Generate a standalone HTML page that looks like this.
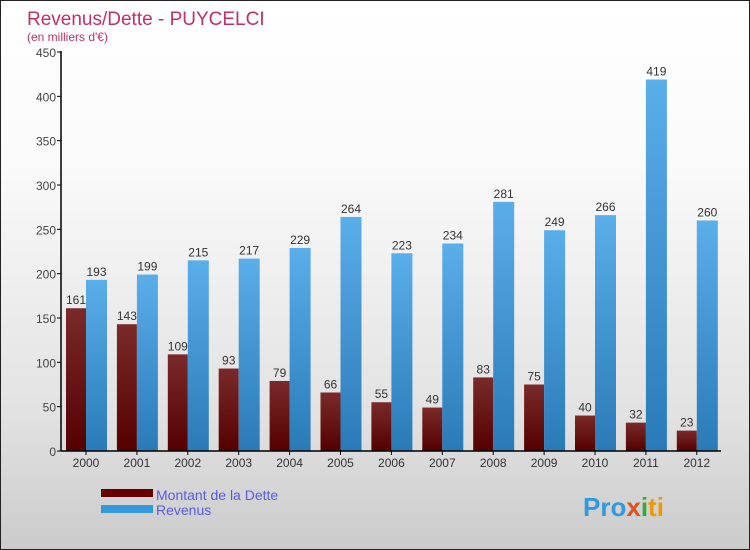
<!DOCTYPE html>
<html><head><meta charset="utf-8"><style>
body{margin:0}
#c{width:748px;height:548px;border:1px solid #222;background:linear-gradient(#fff,#fafafa 30%,#e2e2e2 75%,#cbcbcb);position:relative;overflow:hidden;font-family:"Liberation Sans",sans-serif}
</style></head><body>
<div id="c">
<svg id="s" width="748" height="548">
<defs>
<linearGradient id="gr" x1="0" y1="0" x2="0" y2="1"><stop offset="0" stop-color="#7a2a2a"/><stop offset="1" stop-color="#550000"/></linearGradient>
<linearGradient id="gb" x1="0" y1="0" x2="0" y2="1"><stop offset="0" stop-color="#5aaeea"/><stop offset="1" stop-color="#2a7ab8"/></linearGradient>
</defs>
<text x="26" y="24" font-size="19" fill="#c0306a">Revenus/Dette - PUYCELCI</text>
<text x="26" y="40" font-size="12" fill="#c0306a">(en milliers d'€)</text>
<g id="g"></g>
<rect x="100" y="488" width="52" height="8" fill="#660000"/>
<text x="155" y="499" font-size="14" fill="#5a5ae8">Montant de la Dette</text>
<rect x="100" y="504" width="52" height="8" fill="#3399dd"/>
<text x="155" y="514" font-size="14" fill="#5a5ae8">Revenus</text>
<text x="582" y="515" font-size="26" font-weight="bold" fill="#3399dd">Pro<tspan fill="#e05020">x</tspan><tspan fill="#33aa33">i</tspan><tspan fill="#ee9900">ti</tspan></text>
</svg></div>
<script>
const years=["2000","2001","2002","2003","2004","2005","2006","2007","2008","2009","2010","2011","2012"];
const dette=[161,143,109,93,79,66,55,49,83,75,40,32,23];
const revenus=[193,199,215,217,229,264,223,234,281,249,266,419,260];
const ticks=[0,50,100,150,200,250,300,350,400,450];
const NS="http://www.w3.org/2000/svg",g=document.getElementById('g');
const y=v=>450-v*399/450, xc=i=>85+i*50.9;
function el(t,a){const e=document.createElementNS(NS,t);for(const k in a)e.setAttribute(k,a[k]);g.appendChild(e);return e;}
ticks.forEach(t=>{
 const l=el('line',{x1:56,x2:60,y1:y(t),y2:y(t),stroke:'#000'});
 
 
 const tx=el('text',{x:55,y:y(t)+5,'font-size':12,fill:'#444','text-anchor':'end'});tx.textContent=t;
 
 
});
years.forEach((yr,i)=>{
 const c=xc(i);
 const r=el('rect',{x:c-20,y:y(dette[i]),width:20,height:450-y(dette[i]),fill:'url(#gr)'});
 
 
 const b=el('rect',{x:c,y:y(revenus[i]),width:21,height:450-y(revenus[i]),fill:'url(#gb)'});
 
 
 const t1=el('text',{x:c-10,y:y(dette[i])-4,'font-size':12,fill:'#333','text-anchor':'middle'});t1.textContent=dette[i];
 
 
 const t2=el('text',{x:c+10.5,y:y(revenus[i])-4,'font-size':12,fill:'#333','text-anchor':'middle'});t2.textContent=revenus[i];
 
 
 const xl=el('text',{x:c,y:466,'font-size':12,fill:'#333','text-anchor':'middle'});xl.textContent=yr;
 
 
 const xt=el('line',{x1:c,x2:c,y1:450,y2:454,stroke:'#000'});
 
 
});
const ya=el('line',{x1:60,x2:60,y1:50,y2:450,stroke:'#000','stroke-width':1.5});


const xa=el('line',{x1:60,x2:720,y1:450,y2:450,stroke:'#000','stroke-width':1.5});


</script>
</body></html>
